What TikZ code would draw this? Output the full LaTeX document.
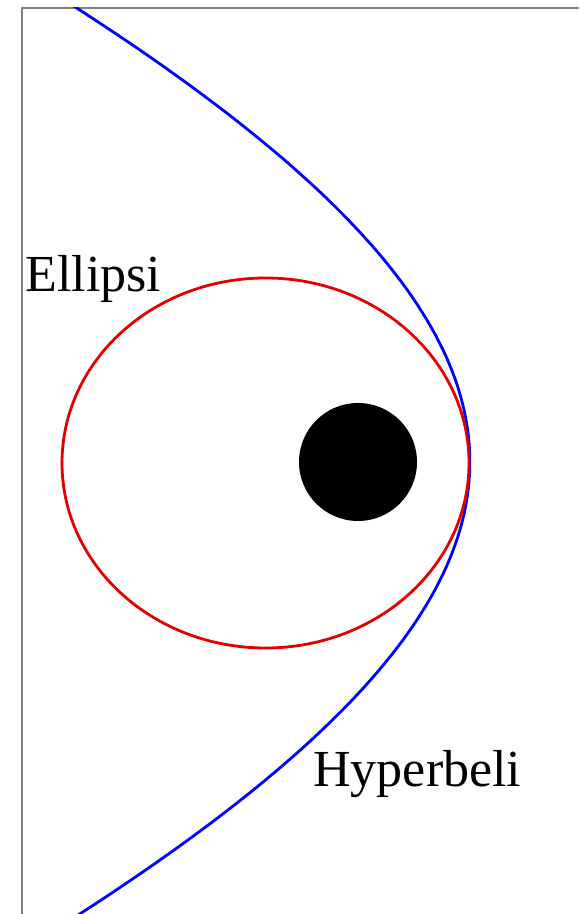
\documentclass[tikz,border=0pt]{standalone}
\usepackage{fontspec}
\setmainfont{Liberation Serif}
\begin{document}
\begin{tikzpicture}[x=0.5pt,y=0.5pt,
  frameline/.style={draw=gray, line width=1pt},
  orbitell/.style={draw=red!90!black, line width=1.4pt},
  orbithyp/.style={draw=blue, line width=1.4pt},
  lbl/.style={font=\fontsize{26}{30}\selectfont, inner sep=0pt}]
\useasboundingbox (0,0) rectangle (579,914);
\coordinate (fb) at (22,0);
\coordinate (fc) at (22,906);
\coordinate (fr) at (579,906);
\draw[frameline] (fb) -- (fc) -- (fr);
\begin{scope}
\clip (22,0) rectangle (579,906);
\draw[orbithyp, domain=-0.73:0.73, samples=120, variable=\t]
  plot ({1954 - 1484*cosh(\t)}, {452 + 586*sinh(\t)});
\end{scope}
\draw[orbitell] (265.5,451) ellipse [x radius=101.75pt, y radius=92.5pt];
\node[circle, fill=black, minimum size=59pt, inner sep=0pt] (star) at (358,452) {};
\node[lbl, anchor=base west] (ell) at (25,622) {Ellipsi};
\node[lbl, anchor=base west] (hyp) at (313,127) {Hyperbeli};
\end{tikzpicture}
\end{document}
